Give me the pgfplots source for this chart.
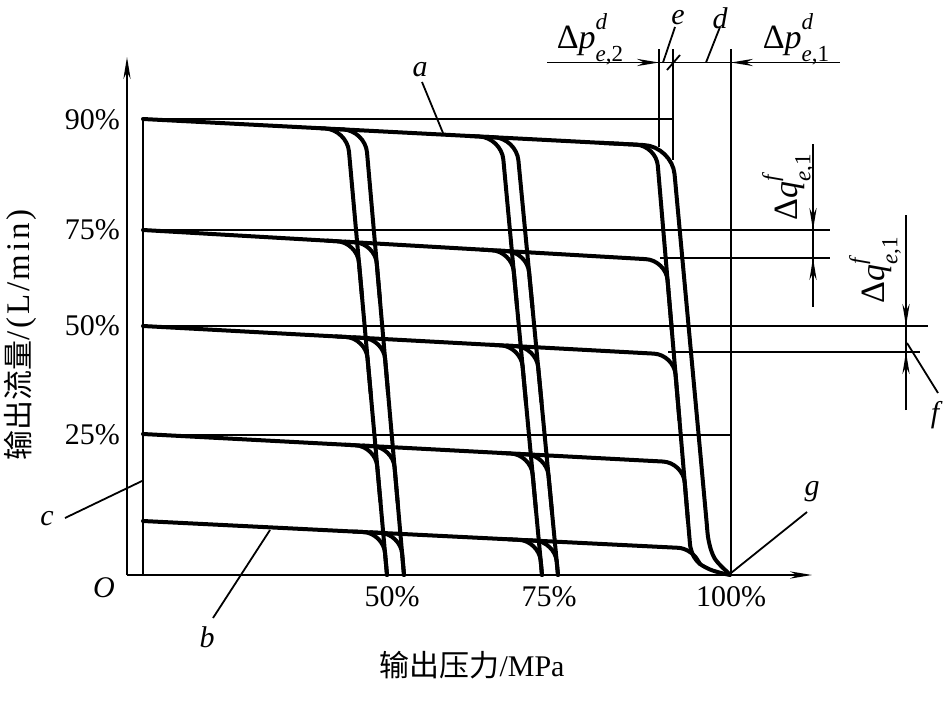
\documentclass[border=0pt]{standalone}
\usepackage{fontspec}
\setmainfont{Liberation Serif}
\newfontfamily\cjk{Noto Sans CJK SC}
\usepackage{pgfplots}
\pgfplotsset{compat=1.18}
\usetikzlibrary{arrows.meta}
\tikzset{
  thk/.style={line width=2pt, line join=round, line cap=round},
  thn/.style={line width=0.9pt},
  arr/.style={-{Stealth[length=11pt,width=3.6pt]}},
  lab/.style={font=\fontsize{15}{18}\selectfont\itshape},
  dlab/.style={font=\fontsize{17}{20}\selectfont, inner sep=1pt}
}
\newcommand{\dl}[3]{Δ\textit{#1}\rlap{\raisebox{0.56em}{\fontsize{11.5}{12}\selectfont\textit{#2}}}\raisebox{-0.38em}{\fontsize{11.5}{12}\selectfont\textit{e},#3}}
\begin{document}
\begin{tikzpicture}[font=\fontsize{15}{18}\selectfont]
\begin{axis}[
  x=0.5pt, y=0.5pt,
  xmin=127, xmax=812, ymin=0, ymax=518,
  axis lines=left,
  axis line style={line width=0.9pt, -{Stealth[length=11pt,width=3.6pt]}},
  clip=false,
  xtick={392,549,731}, xticklabels={50\%,75\%,100\%},
  ytick={455,345,249,140}, yticklabels={90\%,75\%,50\%,25\%},
  major tick length=0pt,
  /pgf/number format/assume math mode=true,
  xticklabel style={yshift=-2pt},
  xlabel={{\cjk 输出压力}/MPa},
  ylabel={{\cjk 输出流量}{\fontsize{16.5}{18}\selectfont\addfontfeature{LetterSpace=8}/(L/min)}},
  xlabel style={at={(axis cs:472,-90)}, anchor=center},
  ylabel style={at={(axis cs:20,240)}, anchor=center},
]
% ---- 100% curves (from 90% line)
\addplot[thk, rounded corners=10pt] coordinates {(143,456) (656.1,429.3) (682.0,125)};
\addplot[thk, smooth] coordinates {(682.0,125) (689.2,40) (690.6,27) (694,18) (700,11) (710,5.5) (720,2.3) (730,0)};
\addplot[thk, rounded corners=14pt] coordinates {(600,432.2) (672.0,428.5) (700.0,125)};
\addplot[thk, smooth] coordinates {(700.0,125) (706.4,55) (708.0,38) (711,25) (715,16) (721,9) (730,0.5)};
% ---- 50% and 75% pairs from 90% line
\addplot[thk, rounded corners=11pt] coordinates {(320,446.8) (347.0,445.4) (387,0)};
\addplot[thk, rounded corners=11pt] coordinates {(335,446.0) (365.1,444.5) (404,0)};
\addplot[thk, rounded corners=11pt] coordinates {(470,439.0) (501.3,437.4) (542,0)};
\addplot[thk, rounded corners=11pt] coordinates {(485,438.2) (516.3,436.6) (558,0)};
% ---- flow lines 75%, 50%, 25%, b
\addplot[thk, rounded corners=10pt] coordinates {(143,345) (665.85,314.7) (671.8,245)};
\addplot[thk, rounded corners=10pt] coordinates {(143,249) (673.87,220.3) (679.4,155)};
\addplot[thk, rounded corners=10pt] coordinates {(143,141) (683.04,112.4) (687.9,55)};
\addplot[thk, rounded corners=6pt] coordinates {(143,54) (690.3,26.6) (700,11)};
% ---- small corners on 75% line
\addplot[thk, rounded corners=10pt] coordinates {(327.13,334.32) (357.13,332.58) (362.07,277.58)};
\addplot[thk, rounded corners=10pt] coordinates {(345.03,333.28) (375.03,331.54) (379.84,276.54)};
\addplot[thk, rounded corners=10pt] coordinates {(481.92,325.34) (511.92,323.60) (517.03,268.6)};
\addplot[thk, rounded corners=10pt] coordinates {(497.19,324.46) (527.19,322.71) (532.44,267.71)};
% ---- small corners on 50% line
\addplot[thk, rounded corners=10pt] coordinates {(335.72,238.59) (365.72,236.97) (370.66,181.97)};
\addplot[thk, rounded corners=10pt] coordinates {(353.38,237.64) (383.38,236.02) (388.19,181.02)};
\addplot[thk, rounded corners=10pt] coordinates {(490.75,230.22) (520.75,228.6) (525.87,173.6)};
\addplot[thk, rounded corners=10pt] coordinates {(506.26,229.38) (536.26,227.76) (541.51,172.76)};
% ---- small corners on 25% line
\addplot[thk, rounded corners=10pt] coordinates {(345.44,130.27) (375.44,128.68) (380.38,73.68)};
\addplot[thk, rounded corners=10pt] coordinates {(362.84,129.35) (392.84,127.76) (397.65,72.76)};
\addplot[thk, rounded corners=10pt] coordinates {(500.81,122.04) (530.81,120.45) (535.93,65.45)};
\addplot[thk, rounded corners=10pt] coordinates {(516.59,121.2) (546.59,119.61) (551.84,64.61)};
% ---- small corners on b line
\addplot[thk, rounded corners=10pt] coordinates {(353.23,43.49) (383.23,41.99) (387,0)};
\addplot[thk, rounded corners=10pt] coordinates {(370.41,42.63) (400.41,41.13) (404,0)};
\addplot[thk, rounded corners=10pt] coordinates {(508.83,35.71) (538.83,34.21) (542,0)};
\addplot[thk, rounded corners=10pt] coordinates {(524.82,34.91) (554.82,33.41) (558,0)};
% ---- thin reference lines
\addplot[thn] coordinates {(143,0) (143,456)};
\addplot[thn] coordinates {(143,456) (673,456)};
\addplot[thn] coordinates {(143,345) (830,345)};
\addplot[thn] coordinates {(660,317) (830,317)};
\addplot[thn] coordinates {(143,249) (928,249)};
\addplot[thn] coordinates {(668,223) (920,223)};
\addplot[thn] coordinates {(143,140) (731,140)};
\addplot[thn] coordinates {(731,0) (731,526)};
\addplot[thn] coordinates {(659,428) (659,526)};
\addplot[thn] coordinates {(673,415) (673,526)};
% ---- dimension lines
\addplot[thn] coordinates {(547,512.5) (840,512.5)};
\addplot[thn, arr] coordinates {(600,512.5) (659,512.5)};
\addplot[thn, arr] coordinates {(790,512.5) (731,512.5)};
\addplot[thn] coordinates {(667,505) (680,520)};
\addplot[thn] coordinates {(675,548) (663,512.5)};
\addplot[thn] coordinates {(720,548) (706,512.5)};
\addplot[thn] coordinates {(813,268) (813,431)};
\addplot[thn, arr] coordinates {(813,400) (813,345)};
\addplot[thn, arr] coordinates {(813,290) (813,317)};
\addplot[thn] coordinates {(906,165) (906,360)};
\addplot[thn, arr] coordinates {(906,300) (906,249)};
\addplot[thn, arr] coordinates {(906,190) (906,223)};
% ---- leaders
\addplot[thn] coordinates {(907,232) (938,182)};
\addplot[thn] coordinates {(422,493) (443,442)};
\addplot[thn] coordinates {(213,-43) (270,45)};
\addplot[thn] coordinates {(65,57) (142,94)};
\addplot[thn] coordinates {(731,2) (807,63)};
% ---- labels
\node[lab] at (axis cs:420,505) {a};
\node[lab] at (axis cs:207,-62) {b};
\node[lab] at (axis cs:47,56) {c};
\node[lab] at (axis cs:104,-13) {O};
\node[lab] at (axis cs:812,83) {g};
\node[lab] at (axis cs:935,160) {f};
\node[lab] at (axis cs:678,557) {e};
\node[lab] at (axis cs:720,557) {d};
\node[dlab] at (axis cs:590,536) {\dl{p}{d}{2}};
\node[dlab] at (axis cs:796,536) {\dl{p}{d}{1}};
\node[dlab, rotate=90] at (axis cs:788,388) {\dl{q}{f}{1}};
\node[dlab, rotate=90] at (axis cs:875,305) {\dl{q}{f}{1}};
\coordinate (BL) at (axis cs:0,-131);
\coordinate (TR) at (axis cs:945,575);
\end{axis}
\pgfresetboundingbox
\useasboundingbox (BL) rectangle (TR);
\end{tikzpicture}
\end{document}
